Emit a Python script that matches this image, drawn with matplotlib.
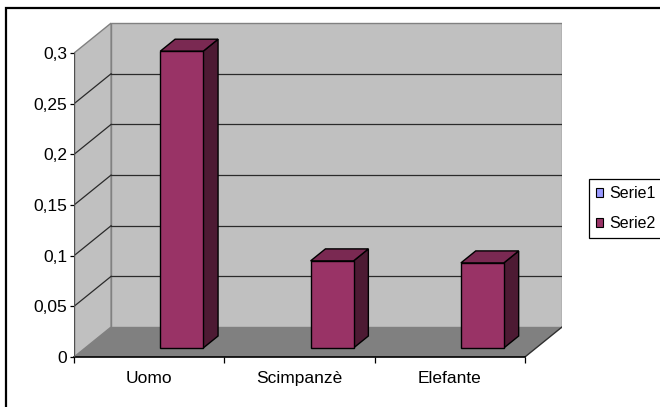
import matplotlib
matplotlib.use("Agg")
import matplotlib.pyplot as plt
from matplotlib.patches import Polygon, Rectangle, Patch
from matplotlib.ticker import FixedLocator, FixedFormatter

plt.rcParams['font.family'] = ['Liberation Sans', 'DejaVu Sans']

# ---- data -------------------------------------------------------------
categories = ["Uomo", "Scimpanzè", "Elefante"]
serie1 = [None, None, None]          # empty series (legend only)
serie2 = [0.293, 0.086, 0.084]
series_names = ["Serie1", "Serie2"]
y_ticks = [0, 0.05, 0.1, 0.15, 0.2, 0.25, 0.3]
y_tick_labels = ["0", "0,05", "0,1", "0,15", "0,2", "0,25", "0,3"]

# ---- style ------------------------------------------------------------
WALL = "#C0C0C0"
FLOOR = "#808080"
EDGE = "#808080"
GRID = "#2a2a2a"
S1 = "#9999FF"
FRONT = "#993366"
TOP = "#7A2952"
SIDE = "#4D1A33"
FS = 12.5
LEG_FS = 11.5

W, H = 660, 407
fig = plt.figure(figsize=(W / 100, H / 100), dpi=100)
fig.patch.set_facecolor("white")

# outer chart frame (runs past the right and bottom edges)
fig.patches.append(Rectangle((6 / W, -0.05), 1.2, 1 - 8 / H + 0.05,
                             transform=fig.transFigure, fill=False,
                             edgecolor="black", linewidth=1.6, zorder=0))

ymax = y_ticks[-1]
ncat = len(categories)
depth_dx = 0.2467      # oblique depth offset, category units
depth_dy = 0.0296      # oblique depth offset, value units

ax = fig.add_axes([74 / W, (H - 357) / H, (562 - 74) / W, (357 - 20) / H])
ax.set_xlim(0, ncat + depth_dx)
ax.set_ylim(0, 337 / 1013)
for s in ax.spines.values():
    s.set_visible(False)
ax.patch.set_alpha(0)

# walls and floor
ax.add_patch(Rectangle((depth_dx, depth_dy), ncat, ymax, facecolor=WALL,
                       edgecolor=EDGE, linewidth=1.0, zorder=1))
ax.add_patch(Polygon([(0, 0), (depth_dx, depth_dy), (depth_dx, ymax + depth_dy),
                      (0, ymax)], closed=True, facecolor=WALL, edgecolor=EDGE,
                     linewidth=1.0, zorder=1))
ax.add_patch(Polygon([(0, 0), (ncat, 0), (ncat + depth_dx, depth_dy),
                      (depth_dx, depth_dy)], closed=True, facecolor=FLOOR,
                     edgecolor="none", zorder=1.5))
ax.plot([ncat, ncat + depth_dx], [0, depth_dy], color="#303030", lw=1.0, zorder=1.6)
ax.plot([0, ncat], [0, 0], color="black", lw=1.2, zorder=4, clip_on=False)
ax.plot([0, 0], [0, ymax], color="#505050", lw=1.0, zorder=4)

# gridlines on back and side wall
for v in y_ticks[1:-1]:
    ax.plot([depth_dx, ncat + depth_dx], [v + depth_dy, v + depth_dy],
            color=GRID, lw=0.9, zorder=2)
    ax.plot([0, depth_dx], [v, v + depth_dy], color=GRID, lw=0.9, zorder=2)

# 3D columns
gap = 1.5
nser = len(series_names)
bw = 1.0 / (nser + gap)
f0, f1 = 0.3, 0.7      # front/back depth fractions of the columns


def column(x0, val, color_front):
    ox, oy = f0 * depth_dx, f0 * depth_dy
    ddx, ddy = (f1 - f0) * depth_dx, (f1 - f0) * depth_dy
    a, b = x0 + ox, x0 + ox + bw
    lo, hi = oy, oy + val
    kw = dict(closed=True, edgecolor="black", linewidth=1.0, zorder=3)
    ax.add_patch(Polygon([(b, lo), (b + ddx, lo + ddy), (b + ddx, hi + ddy), (b, hi)],
                         facecolor=SIDE, **kw))
    ax.add_patch(Polygon([(a, hi), (b, hi), (b + ddx, hi + ddy), (a + ddx, hi + ddy)],
                         facecolor=TOP, **kw))
    ax.add_patch(Polygon([(a, lo), (b, lo), (b, hi), (a, hi)],
                         facecolor=color_front, **kw))


for i in range(ncat):
    for j, vals in enumerate([serie1, serie2]):
        if vals[i] is None:
            continue
        x0 = i + gap * bw / 2 + j * bw
        column(x0, vals[i], [S1, FRONT][j])

# axes ticks and labels
ax.yaxis.set_major_locator(FixedLocator(y_ticks))
ax.yaxis.set_major_formatter(FixedFormatter(y_tick_labels))
ax.tick_params(axis="y", length=3, width=0.9, color="black", pad=2,
               labelsize=FS, labelcolor="black")
ax.xaxis.set_major_locator(FixedLocator(list(range(ncat + 1))))
ax.xaxis.set_major_formatter(FixedFormatter([""] * (ncat + 1)))
ax.xaxis.set_minor_locator(FixedLocator([i + 0.5 for i in range(ncat)]))
ax.xaxis.set_minor_formatter(FixedFormatter(categories))
ax.tick_params(axis="x", which="major", length=4, width=0.9, color="black")
ax.tick_params(axis="x", which="minor", length=0, pad=10, labelsize=FS,
               labelcolor="black")

# legend
handles = [Patch(facecolor=c, edgecolor="black", linewidth=0.8) for c in (S1, FRONT)]
leg = fig.legend(handles, series_names, loc="upper left",
                 bbox_to_anchor=(589 / W, 1 - 179 / H), fontsize=LEG_FS,
                 frameon=True, fancybox=False, framealpha=1, edgecolor="black",
                 handlelength=0.45, handleheight=0.45, handletextpad=0.4,
                 borderpad=0.45, labelspacing=0.94, borderaxespad=0)
leg.get_frame().set_linewidth(0.9)

fig.savefig("out.png", dpi=100)
